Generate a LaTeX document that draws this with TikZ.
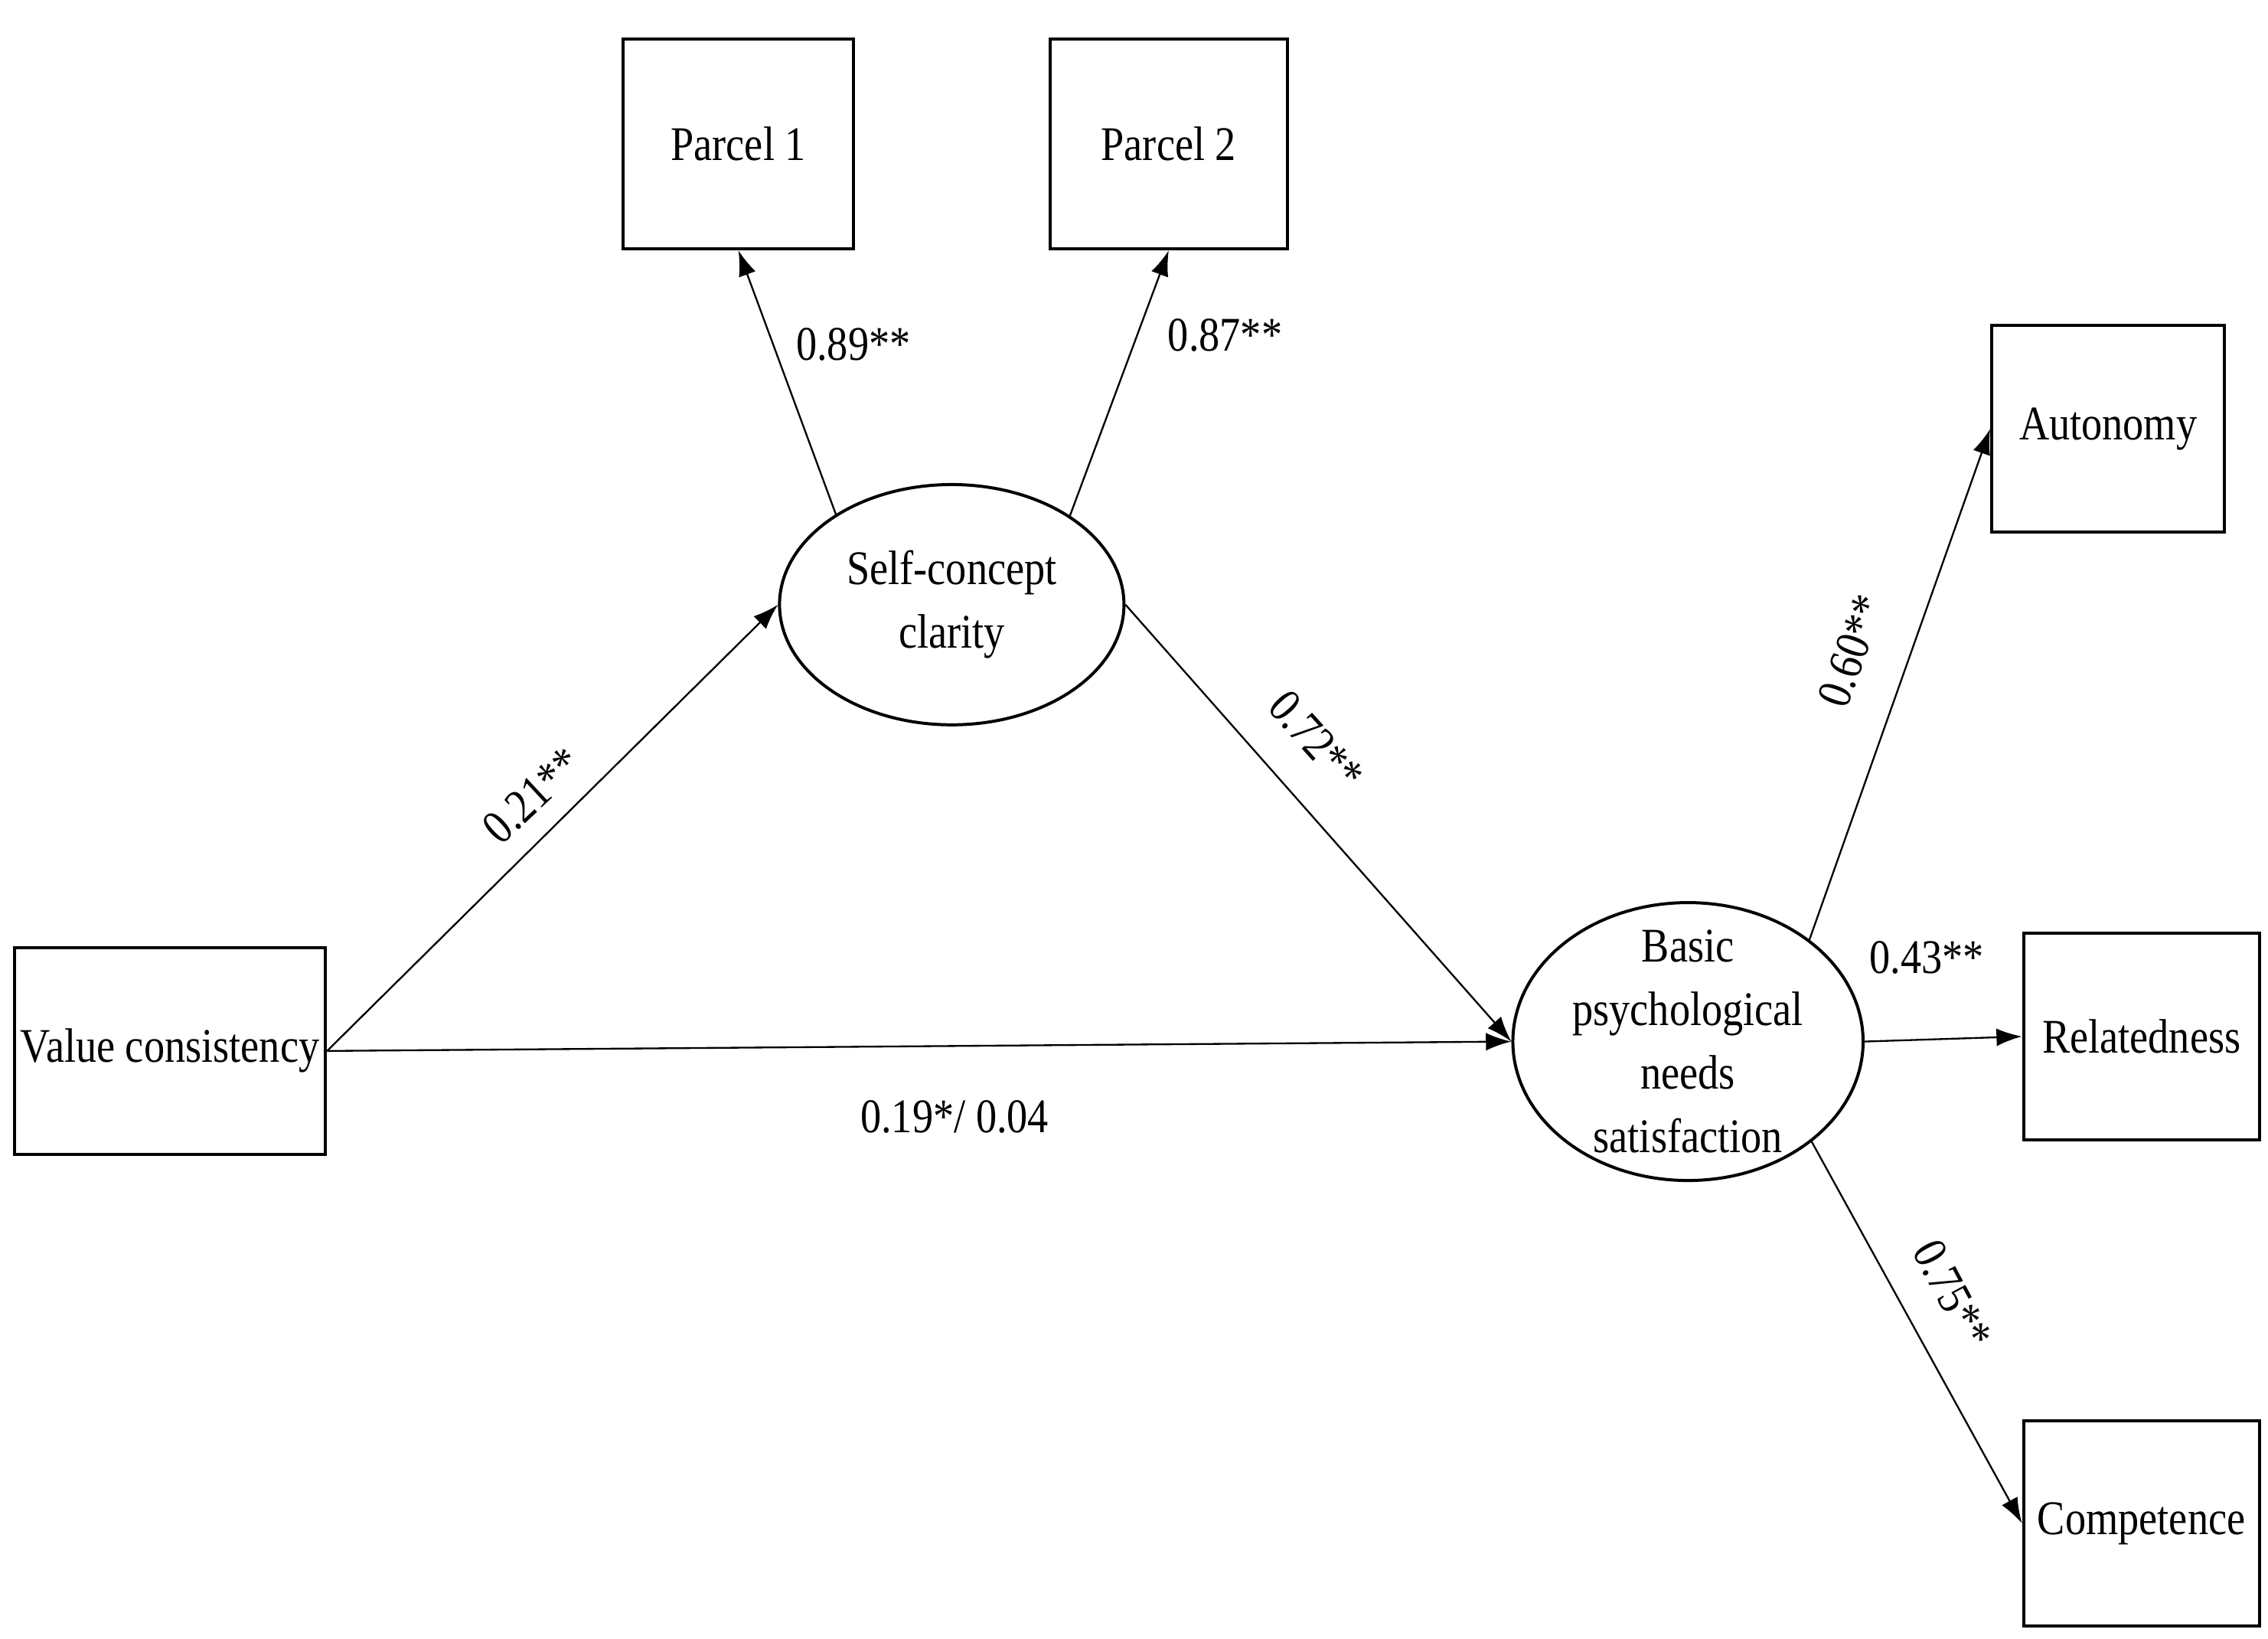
\documentclass[tikz,border=0pt]{standalone}
\usepackage{fontspec}
\setmainfont{Liberation Serif}[FakeStretch=0.86]
\usetikzlibrary{shapes.geometric,arrows.meta}
\begin{document}
\begin{tikzpicture}[x=0.01cm,y=-0.01cm,
  bx/.style={draw,line width=0.6pt,inner sep=0pt},
  ell/.style={draw,ellipse,line width=0.6pt,inner sep=-20pt,align=center,font=\fontsize{9.5}{12.5}\selectfont},
  arr/.style={line width=0.35pt,-{Latex[length=5pt,width=3.5pt]}},
  lab/.style={font=\fontsize{9.5}{12}\selectfont},
  every node/.append style={font=\fontsize{9.5}{12}\selectfont}]
\useasboundingbox (0,0) rectangle (1568,1133);
\node[bx,minimum width=1.59cm,minimum height=1.45cm] (p1) at (510.5,99.5) {Parcel 1};
\node[bx,minimum width=1.64cm,minimum height=1.45cm] (p2) at (808,99.5) {Parcel 2};
\node[bx,minimum width=1.61cm,minimum height=1.43cm] (aut) at (1457.5,296.5) {Autonomy};
\node[bx,minimum width=1.63cm,minimum height=1.43cm] (rel) at (1480.5,716.5) {Relatedness};
\node[bx,minimum width=1.63cm,minimum height=1.42cm] (com) at (1480.5,1053) {Competence};
\node[bx,minimum width=2.15cm,minimum height=1.43cm] (val) at (117.5,726.5) {Value consistency};
\node[ell,minimum width=2.38cm,minimum height=1.66cm] (scc) at (658,418) {Self-concept\\clarity};
\node[ell,minimum width=2.42cm,minimum height=1.92cm] (bpn) at (1167,720) {Basic\\psychological\\needs\\satisfaction};
\draw[arr] (scc.142) -- (p1.south);
\draw[arr] (scc.37) -- (p2.south);
\draw[arr] (val.east) -- (scc.west);
\draw[arr] (scc.east) -- (bpn.west);
\draw[arr] (val.east) -- (bpn.west);
\draw[arr] (bpn.40) -- (aut.west);
\draw[arr] (bpn.east) -- (rel.west);
\draw[arr] (bpn.-39) -- (com.west);
\node[lab] at (590,238) {0.89**};
\node[lab] at (847,232) {0.87**};
\node[lab,rotate=43] at (368,550) {0.21**};
\node[lab,rotate=-48] at (910,512) {0.72**};
\node[lab] at (660,772) {0.19*/ 0.04};
\node[lab,rotate=70] at (1280,450) {0.60**};
\node[lab] at (1332,662) {0.43**};
\node[lab,rotate=-62] at (1350,895) {0.75**};
\end{tikzpicture}
\end{document}
